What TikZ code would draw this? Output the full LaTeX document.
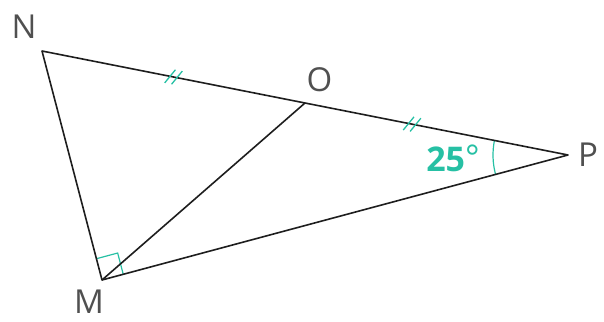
\documentclass[tikz,border=0pt]{standalone}
\usepackage{fontspec}
\setmainfont{Open Sans}
\usetikzlibrary{calc,angles}
\definecolor{teal1}{RGB}{38,192,164}
\definecolor{ink}{RGB}{30,30,30}
\definecolor{lbl}{RGB}{80,80,80}
\begin{document}
\begin{tikzpicture}[x=1pt,y=1pt,
  edge/.style={draw=ink,line width=1.6pt,line join=round},
  tickmark/.style={draw=teal1,line width=1.3pt},
  ptlabel/.style={text=lbl,font=\fontsize{33}{33}\selectfont,inner sep=0pt}]
\useasboundingbox (0,0) rectangle (604,321);
\coordinate (N) at (42,270);
\coordinate (P) at (568,166);
\coordinate (O) at ($(N)!0.5!(P)$);
\coordinate (M) at (102,41);
% right angle mark
\coordinate (a1) at ($(M)!22pt!(N)$);
\coordinate (a2) at ($(M)!22pt!(P)$);
\coordinate (a3) at ($(a1)+(a2)-(M)$);
\draw[draw=teal1,line width=1.2pt] (a1) -- (a3) -- (a2);
% angle arc
\pic[draw=teal1,line width=1.2pt,angle radius=75pt] {angle=N--P--M};
% triangle and median
\draw[edge] (N) -- (P) -- (M) -- cycle;
\draw[edge] (M) -- (O);
% ticks
\begin{scope}[shift={($(N)!0.5!(O)$)},rotate=-11.2]
  \draw[tickmark] (-7.5,-7.5) -- (0.5,7.5) (-0.5,-7.5) -- (7.5,7.5);
\end{scope}
\begin{scope}[shift={($(O)!0.407!(P)$)},rotate=-11.2]
  \draw[tickmark] (-7.5,-7.5) -- (0.5,7.5) (-0.5,-7.5) -- (7.5,7.5);
\end{scope}
% labels
\node[ptlabel] (lN) at (24,294) {N};
\node[ptlabel] (lO) at (319.5,241.5) {O};
\node[ptlabel] (lP) at (588,166) {P};
\node[ptlabel] (lM) at (89,19) {M};
\node[text=teal1,inner sep=0pt,font=\fontsize{34}{34}\selectfont] (ang) at (453,163) {\textbf{25}\raisebox{2pt}{°}};
\end{tikzpicture}
\end{document}
